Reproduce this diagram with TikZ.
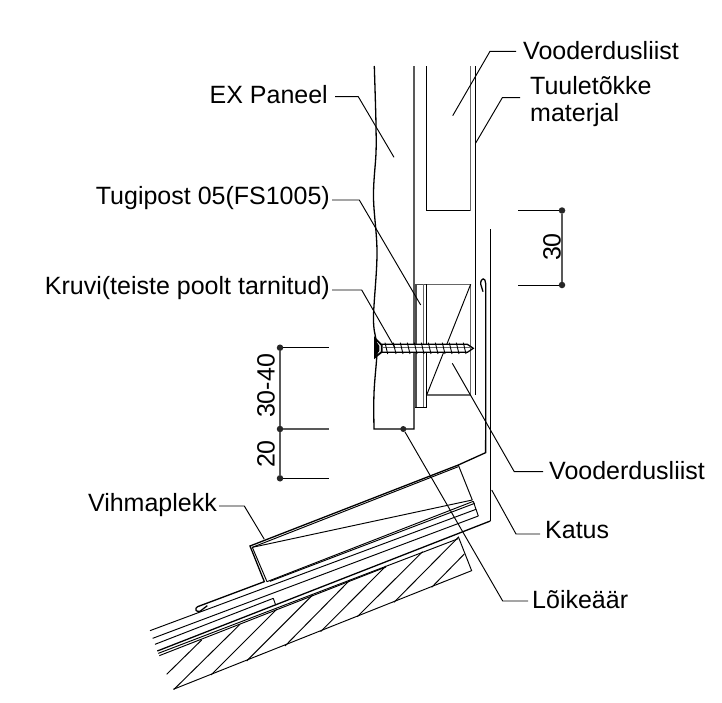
\documentclass[tikz,border=0pt]{standalone}
\usepackage{fontspec}
\setmainfont{Liberation Sans}
\tikzset{
  main/.style={line width=1.3pt,black,line join=miter},
  thin/.style={line width=0.95pt,black},
  grey/.style={line width=1.2pt,black!60},
  leader/.style={line width=0.95pt,black},
  dimline/.style={line width=1.2pt,black!65},
  tick/.style={line width=0.9pt,black},
  lbl/.style={inner sep=2pt,font=\fontsize{25}{27}\selectfont,align=left,text=black},
  dimtxt/.style={inner sep=0pt,font=\fontsize{25}{27}\selectfont,rotate=90},
  dot/.style={circle,fill=black!85,draw=none,inner sep=0pt,minimum size=6.5pt}
}
\begin{document}
\begin{tikzpicture}[x=1pt,y=-1pt]
\useasboundingbox (0,0) rectangle (722,702);
\fill[white] (0,0) rectangle (722,702);

% labels
\node[lbl,anchor=west] (vooda) at (521,51) {Vooderdusliist};
\node[lbl,anchor=west] (tuul) at (528,101.5) {Tuuletõkke\\materjal};
\node[lbl,anchor=east] (expan) at (330,95) {EX Paneel};
\node[lbl,anchor=east] (tugi) at (332,198.5) {Tugipost 05(FS1005)};
\node[lbl,anchor=east] (kruvi) at (332,288.5) {Kruvi(teiste poolt tarnitud)};
\node[lbl,anchor=west] (voodb) at (547,471) {Vooderdusliist};
\node[lbl,anchor=west] (katus) at (543,530) {Katus};
\node[lbl,anchor=west] (loike) at (530,600) {Lõikeäär};
\node[lbl,anchor=east] (vihma) at (219,505) {Vihmaplekk};

% panel
\draw[main] plot[smooth,tension=0.6] coordinates {(374.3,66) (375.5,105) (376,127) (376,153) (373.5,197) (377,253) (373.5,317) (376,340) (377,353) (374,393) (374,429)} -- (414,429) -- (414,66);
% inner batten
\draw[main] (426.3,66) -- (426.3,210.7) -- (470.7,210.7);
\draw[grey] (470.7,210.7) -- (470.7,66);
% membrane and roof uprights
\draw[main] (475.8,66) -- (475.8,395);
\draw[main] (490.3,229) -- (490.3,521);

% plate and block, zoom coordinates
\begin{scope}[shift={(350,220)},x=0.3333pt,y=-0.3333pt]
  \draw[line width=1.2pt,black!70] (195,193) -- (230,193);
  \draw[main] (230,193) -- (230,562) -- (195,562);
  \draw[line width=1.2pt,black!70] (198,193) -- (198,562);
  \draw[line width=1.2pt,black!60] (220,193) -- (220,562);
  \draw[grey] (230,193) -- (362,193) -- (362,525) -- (230,525);
  \draw[thin] (362,193) -- (230,525);
  % hook of the flashing
  \draw[main] (407,660) -- (407,190) .. controls (407,172) and (392,172) .. (392,192) -- (399,215);
  % screw
  \fill[white] (95,372) rectangle (358,397);
  \draw[line width=1.8pt] (75,355) -- (95,375) -- (95,396) -- (75,412) -- cycle;
  \fill[black] (75,358) -- (88,378) -- (88,393) -- (75,410) -- cycle;
  \draw[main] (95,373) -- (352,373) -- (370,385) -- (352,397) -- (95,397);
  \draw[line width=0.7pt,black!60] (95,381) -- (362,381);
  \foreach \tx in {105,130,151,172,193,214,235,256,277,298,319,340}
    \draw[tick] (\tx,368) -- (\tx+8,402);
\end{scope}

% flashing and roof, zoom coordinates
\begin{scope}[shift={(130,440)},x=0.3333pt,y=-0.3333pt]
  \draw[main] (1067,0) -- (1067,38) -- (985,75) -- (360,318) -- (403,425) -- (203,500)
     .. controls (192,505) and (198,518) .. (210,514) -- (232,497);
  \draw[thin] (985,80) -- (367,322) -- (411,425);
  \draw[thin] (985,75) -- (1027,180);
  \draw[thin] (367,322) -- (1027,180);
  \draw[thin] (1030,184) -- (411,425);
  \draw[thin] (1034,190) -- (420,424);
  \draw[thin] (1030,184) -- (1045,228);
  \draw[thin] (1038,208) -- (60,572);
  \draw[thin] (1045,228) -- (68,595);
  \draw[thin] (430,475) -- (75,613);
  \draw[thin] (430,475) -- (437,495);
  \draw[main] (1081,243) -- (82,633);
  \draw[thin] (985,296) -- (85,640);
  \draw[thin] (768,381) -- (88,647);
  % rafter
  \draw[thin] (985,290) -- (1025,392) -- (130,748);
  \draw[thin] (110,703) -- (215,600);
  \draw[thin] (132,748) -- (330,553);
  \draw[thin] (243,705) -- (440,508);
  \draw[thin] (350,663) -- (548,465);
  \draw[thin] (465,618) -- (660,420);
  \draw[thin] (572,575) -- (768,378);
  \draw[thin] (682,530) -- (878,335);
  \draw[thin] (792,487) -- (985,292);
  \draw[thin] (905,442) -- (1003,342);
\end{scope}

% leaders
\coordinate (ea) at (490,51.3);
\coordinate (eb) at (502.3,97.7);
\coordinate (ec) at (358.3,96.7);
\coordinate (ed) at (359.3,200);
\coordinate (ee) at (361.7,290);
\coordinate (ef) at (514.3,471.7);
\coordinate (eg) at (516,534);
\coordinate (eh) at (502.7,601);
\coordinate (ei) at (244.3,506);
\coordinate (ta) at (452.7,115.7);
\coordinate (tb) at (475.7,143);
\coordinate (tc) at (394,157.3);
\coordinate (td) at (420.7,305);
\coordinate (te) at (395,348);
\coordinate (tf) at (452.3,363.3);
\coordinate (tg) at (491.7,490);
\node[dot,minimum size=6pt] (cutdot) at (403.3,429) {};
\coordinate (ti) at (264.3,539.3);
\draw[leader] ([xshift=-5pt]vooda.west |- ea) -- (ea) -- (ta);
\draw[leader] ([xshift=-8pt]tuul.west |- eb) -- (eb) -- (tb);
\draw[leader] ([xshift=5pt]expan.east |- ec) -- (ec) -- (tc);
\draw[leader] (tugi.east |- ed) -- (ed) -- (td);
\draw[leader] (kruvi.east |- ee) -- (ee) -- (te);
\draw[leader] ([xshift=-4pt]voodb.west |- ef) -- (ef) -- (tf);
\draw[leader] ([xshift=-3pt]katus.west |- eg) -- (eg) -- (tg);
\draw[leader] ([xshift=-2pt]loike.west |- eh) -- (eh) -- (cutdot);
\draw[leader] (vihma.east |- ei) -- (ei) -- (ti);

% dimensions left
\node[dot] (da) at (280,347.7) {};
\node[dot] (db) at (280,429) {};
\node[dot] (dc) at (280,478.3) {};
\coordinate (xa) at (328.7,347.7);
\coordinate (xb) at (328.7,429);
\coordinate (xc) at (328.7,478.3);
\draw[dimline] (da) -- (db) -- (dc);
\draw[thin] (da) -- (xa);
\draw[dimline] (db) -- (xb);
\draw[thin] (dc) -- (xc);
\node[dimtxt] (t3040) at (266,386) {30-40};
\node[dimtxt] (t20) at (266,454) {20};

% dimensions right
\node[dot] (dd) at (562,210.5) {};
\node[dot] (de) at (562,285) {};
\coordinate (xd) at (518,210.5);
\coordinate (xe) at (518,285);
\draw[dimline] (dd) -- (de);
\draw[thin] (dd) -- (xd);
\draw[thin] (de) -- (xe);
\node[dimtxt] (t30) at (552,247) {30};
\end{tikzpicture}
\end{document}
